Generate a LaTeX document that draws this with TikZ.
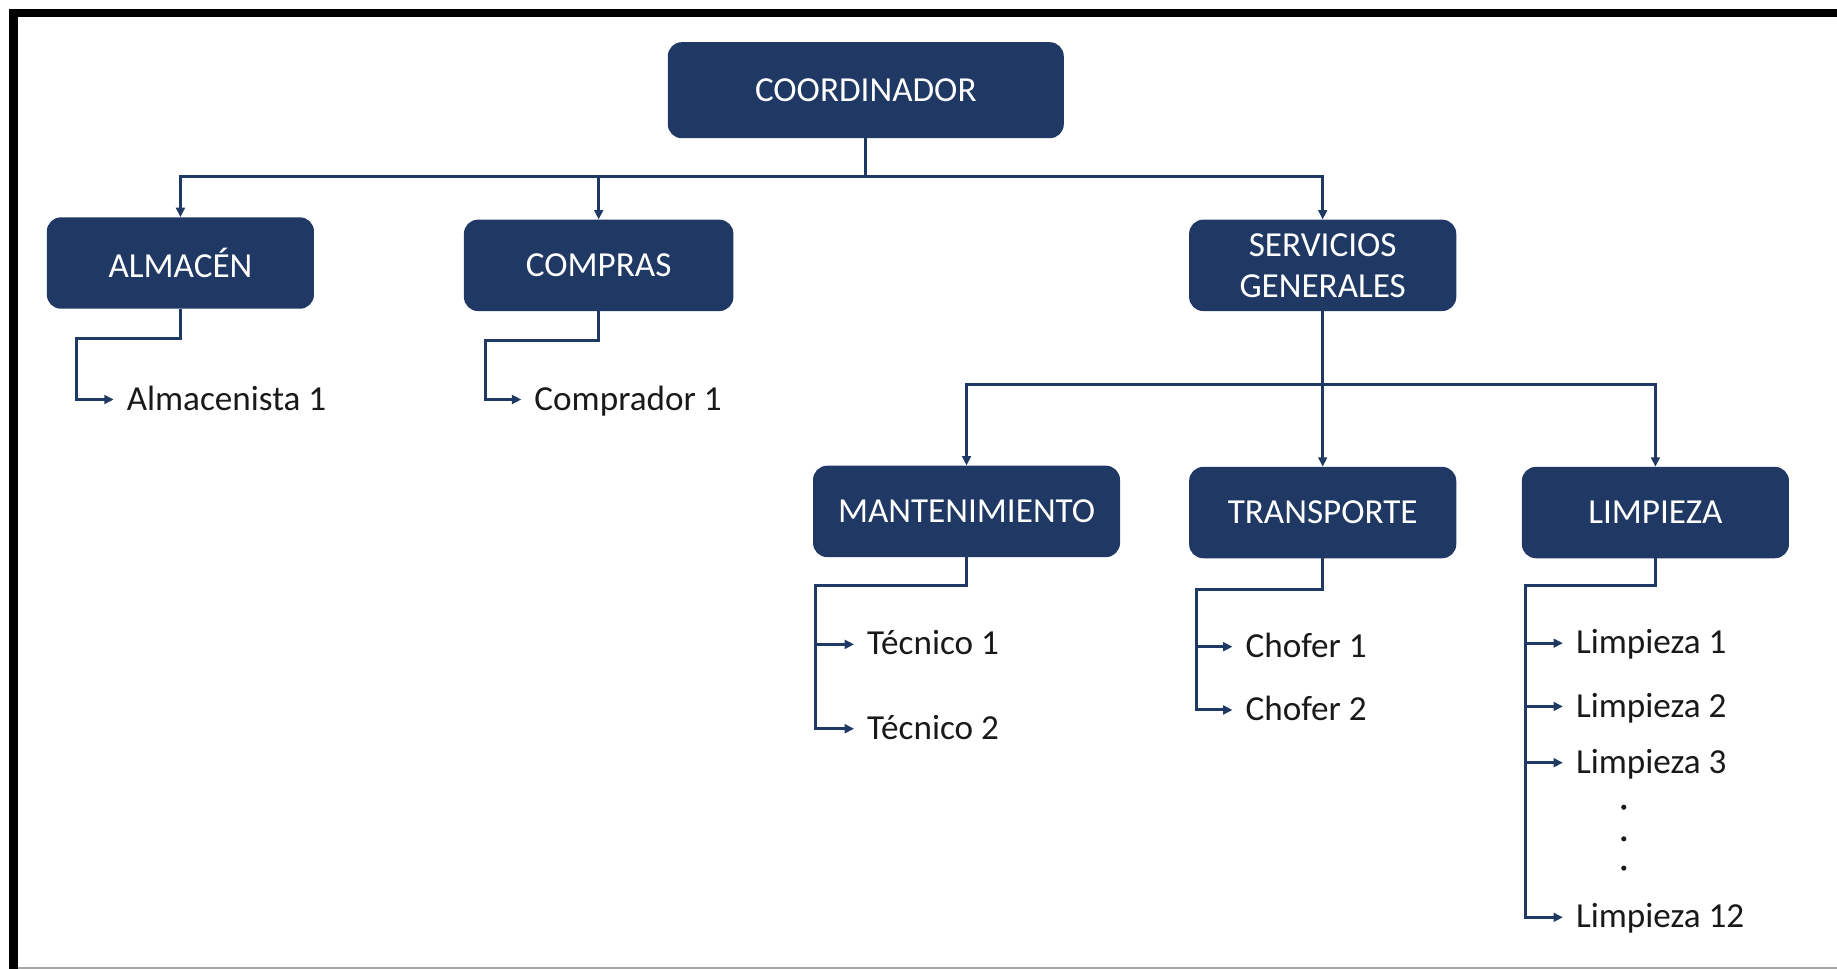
\documentclass[tikz,border=0pt]{standalone}
\usepackage{fontspec}
\setmainfont{Carlito}
\usepackage{tikz}
\usetikzlibrary{arrows.meta}
\definecolor{OrgBlue}{RGB}{31,56,100}
\def\BoxWidth{228pt}
\def\BoxHeight{78pt}
\tikzset{
	unit/.style={fill=OrgBlue,rounded corners=12pt,text=white,minimum width=\BoxWidth,minimum height=\BoxHeight,inner sep=0pt,align=center,font=\fontsize{30}{35}\selectfont},
	staff/.style={anchor=west,inner xsep=11pt,inner ysep=0pt,text height=18pt,text depth=0pt,text=black!90,font=\fontsize{30}{36}\selectfont},
	link/.style={draw=OrgBlue,line width=2.6pt},
	tolink/.style={link,-{Triangle[length=8pt,width=7.5pt]}},
}

\begin{document}
\begin{tikzpicture}[x=1pt,y=-1pt]
			\useasboundingbox (0,0) rectangle (1568,827);
			% frame
			\draw[line width=7pt] (11.5,827) -- (11.5,11) -- (1568,11);
			\draw[black!35,line width=1.5pt] (15,826) -- (1568,826);
			% units
			\node[unit,minimum width=338pt,minimum height=82pt] (coord) at (739,77) {COORDINADOR};
			\node[unit] (alm) at (154,224.5) {ALMAC\'EN};
			\node[unit,minimum width=230pt] (comp) at (511,226.5) {COMPRAS};
			\node[unit] (serv) at (1129,226.5) {SERVICIOS\\GENERALES};
			\node[unit,minimum width=262pt] (mant) at (825,436.5) {MANTENIMIENTO};
			\node[unit] (trans) at (1129,437.5) {TRANSPORTE};
			\node[unit] (limp) at (1413,437.5) {LIMPIEZA};
			% staff
			\node[staff] (alm1) at (97,341) {Almacenista 1};
			\node[staff] (comp1) at (445,341) {Comprador 1};
			\node[staff] (tec1) at (729,550) {T\'ecnico 1};
			\node[staff] (tec2) at (729,622) {T\'ecnico 2};
			\node[staff] (cho1) at (1052,552) {Chofer 1};
			\node[staff] (cho2) at (1052,606) {Chofer 2};
			\node[staff] (lim1) at (1334,549) {Limpieza 1};
			\node[staff] (lim2) at (1334,603) {Limpieza 2};
			\node[staff] (lim3) at (1334,651) {Limpieza 3};
			\node[staff] (lim12) at (1334,783) {Limpieza 12};
			\foreach \y in {689,716,741}
				\fill[black!90] (1386,\y) circle (2.2pt);
			% 
			\coordinate (bus) at (739,151);
			\coordinate (sbus) at (1129,328);
			\coordinate (almT) at (65,289);
			\coordinate (compT) at (414,291);
			\coordinate (mantT) at (696,500);
			\coordinate (transT) at (1021,503);
			\coordinate (limT) at (1302,500);
			% 
			\draw[tolink] (coord.south) -- (bus) -| (alm.north);
			\draw[tolink] (bus) -| (comp.north);
			\draw[tolink] (bus) -| (serv.north);
			\draw[tolink] (serv.south) -- (sbus) -| (mant.north);
			\draw[tolink] (sbus) -- (trans.north);
			\draw[tolink] (sbus) -| (limp.north);
			% 
			\draw[tolink] (alm.south) |- (almT) |- (alm1.west);
			\draw[tolink] (comp.south) |- (compT) |- (comp1.west);
			\draw[tolink] (mant.south) |- (mantT) |- (tec2.west);
			\draw[tolink] (mantT |- tec1.west) -- (tec1.west);
			\draw[tolink] (trans.south) |- (transT) |- (cho2.west);
			\draw[tolink] (transT |- cho1.west) -- (cho1.west);
			\draw[tolink] (limp.south) |- (limT) |- (lim12.west);
			\foreach \n in {1,2,3}
				\draw[tolink] (limT |- lim\n.west) -- (lim\n.west);
		\end{tikzpicture}
\end{document}
